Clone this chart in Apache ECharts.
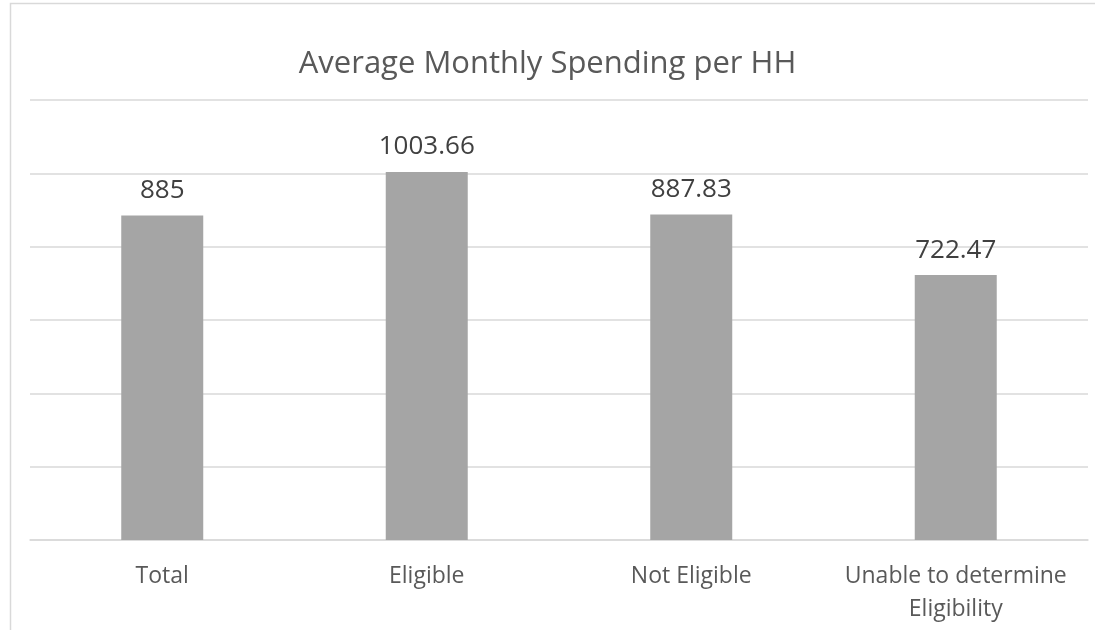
<!DOCTYPE html>
<html>
<head>
<meta charset="utf-8">
<script src="https://cdn.jsdelivr.net/npm/echarts@6/dist/echarts.min.js"></script>
<style>
  html, body { margin: 0; padding: 0; background: #fff; }
  #chart { width: 1095px; height: 630px; }
</style>
</head>
<body>
<div id="chart"></div>
<script>
// 数据
const categories = ['Total', 'Eligible', 'Not Eligible', 'Unable to determine\nEligibility'];
const spending = [885, 1003.66, 887.83, 722.47];
const valueLabels = ['885', '1003.66', '887.83', '722.47'];

const chart = echarts.init(document.getElementById('chart'));
chart.setOption({
    animation: false,
    textStyle: { fontFamily: 'Open Sans' },
    title: {
        text: 'Average Monthly Spending per HH',
        left: 'center',
        top: 44,
        textStyle: { fontSize: 31, fontWeight: 'normal', color: '#595959', fontFamily: 'Open Sans' },
    },
    // 外框（上边和左边）
    graphic: [
        {
            type: 'polyline',
            shape: { points: [[10.5, 640], [10.5, 3.5], [1100, 3.5]] },
            style: { fill: 'none', stroke: '#d9d9d9', lineWidth: 1.5 },
            silent: true,
        },
    ],
    grid: { left: 30, right: 7, top: 100, bottom: 90 },
    xAxis: {
        type: 'category',
        data: categories,
        axisTick: { show: false },
        axisLine: { lineStyle: { color: '#d9d9d9', width: 1.5 } },
        axisLabel: { color: '#595959', fontSize: 23, margin: 20, lineHeight: 33, interval: 0 },
    },
    yAxis: {
        type: 'value',
        min: 0,
        max: 1200,
        interval: 200,
        axisLabel: { show: false },
        axisLine: { show: false },
        axisTick: { show: false },
        splitLine: { lineStyle: { color: '#d9d9d9', width: 1.5 } },
    },
    series: [
        {
            type: 'bar',
            data: spending,
            barWidth: '31%',
            itemStyle: { color: '#a5a5a5' },
            label: {
                show: true,
                position: 'top',
                distance: 12,
                fontSize: 26,
                color: '#404040',
                formatter: (p) => valueLabels[p.dataIndex],
            },
        },
    ],
});
</script>
</body>
</html>
